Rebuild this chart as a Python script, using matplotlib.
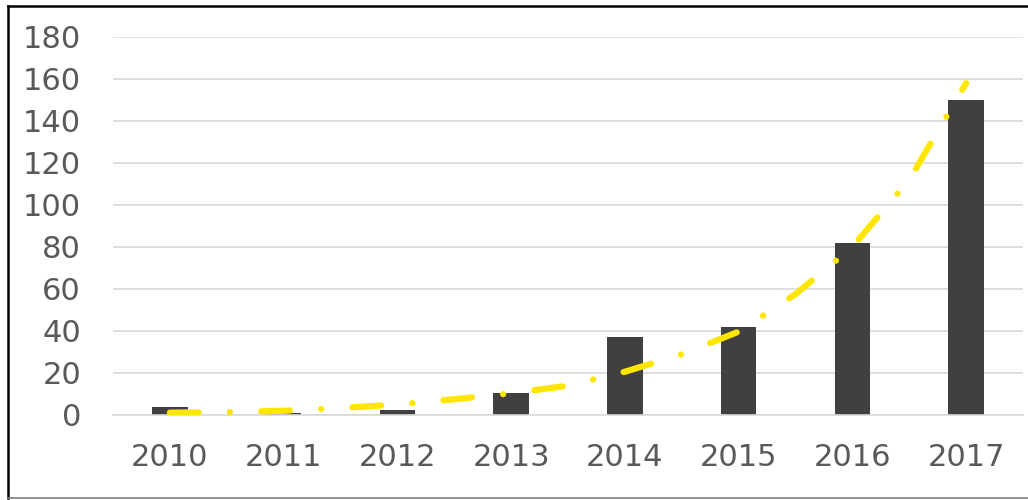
import matplotlib
matplotlib.use('Agg')
import matplotlib.pyplot as plt
from matplotlib.lines import Line2D

# data
years = ['2010', '2011', '2012', '2013', '2014', '2015', '2016', '2017']
counts = [4, 1, 2.5, 10.5, 37, 42, 82, 150]

# exponential trend line, read at every half year
trend_pos = [0, 0.5, 1, 1.5, 2, 2.5, 3, 3.5, 4, 4.5, 5, 5.5, 6, 6.5, 7]
trend_vals = [1.1, 1.4, 2.0, 3.3, 5.0, 7.5, 10.3, 14, 20.6, 28.9, 39.7, 57.5, 80, 112, 158]

y_ticks = [0, 20, 40, 60, 80, 100, 120, 140, 160, 180]

plt.rcParams['font.family'] = 'DejaVu Sans'

fig = plt.figure(figsize=(10.28, 5), dpi=100)
ax = fig.add_axes([113 / 1028, 1 - 415 / 500, 910 / 1028, 378 / 500])

x = list(range(len(years)))
ax.bar(x, counts, width=0.31, color='#404040', zorder=2)
ax.plot(trend_pos, trend_vals, color='#FFE600', lw=4.5, solid_capstyle='round',
        dash_capstyle='round', dashes=(4.6, 5.0, 0.01, 5.0), zorder=3)

ax.set_xlim(-0.5, len(years) - 0.5)
ax.set_ylim(0, 180)
ax.set_yticks(y_ticks)
ax.set_xticks(x)
ax.set_xticklabels(years)
ax.yaxis.grid(True, color='#D9D9D9', lw=1.2, zorder=0)
ax.set_axisbelow(True)
for s in ['top', 'right', 'left']:
    ax.spines[s].set_visible(False)
ax.spines['bottom'].set_color('#D9D9D9')
ax.spines['bottom'].set_linewidth(1.2)
ax.tick_params(axis='both', length=0, labelsize=22, colors='#595959')
ax.tick_params(axis='y', pad=23)
ax.tick_params(axis='x', pad=20)

# outer frame of the chart image
fig.add_artist(Line2D([7.5 / 1028, 7.5 / 1028], [1 - 6 / 500, 1 - 498 / 500],
                      transform=fig.transFigure, color='black', lw=1.8))
fig.add_artist(Line2D([7.5 / 1028, 1], [1 - 6 / 500, 1 - 6 / 500],
                      transform=fig.transFigure, color='black', lw=1.8))
fig.add_artist(Line2D([7.5 / 1028, 1], [1 - 498 / 500, 1 - 498 / 500],
                      transform=fig.transFigure, color='#7F7F7F', lw=1.2))

fig.savefig('out.png', dpi=100)
